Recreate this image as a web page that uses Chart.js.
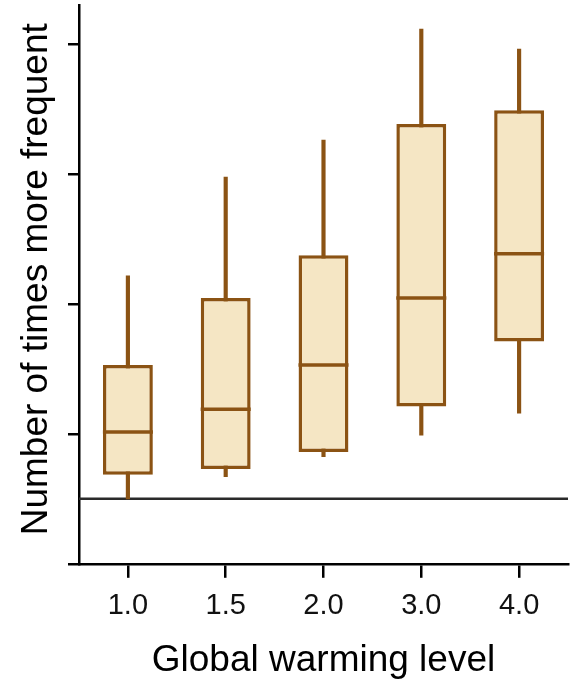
<!DOCTYPE html>
<html>
<head>
<meta charset="utf-8">
<script src="https://cdn.jsdelivr.net/npm/chart.js@4.4.1/dist/chart.umd.min.js"></script>
<style>
  html, body { margin: 0; padding: 0; background: #fff; }
  #wrap { width: 577px; height: 685px; }
</style>
</head>
<body>
<div id="wrap"><canvas id="chart"></canvas></div>
<script>
// warming levels and box statistics
var levels = ['1.0', '1.5', '2.0', '3.0', '4.0'];
var whiskerLow = [1.0, 1.34, 1.65, 1.98, 2.32];
var q1 = [1.37, 1.46, 1.72, 2.42, 3.42];
var median = [2.03, 2.38, 3.06, 4.09, 4.77];
var q3 = [3.06, 4.09, 4.75, 6.77, 6.98];
var whiskerHigh = [4.43, 5.95, 6.52, 8.23, 7.92];
var refLevel = 1;

var brown = '#8b5314';
var fill = '#f5e6c4';
var font = "'Liberation Sans', Arial, sans-serif";

var boxes = [], whiskers = [];
for (var i = 0; i < levels.length; i++) {
  boxes.push([q1[i], q3[i]]);
  whiskers.push([whiskerLow[i], whiskerHigh[i]]);
}

// horizontal reference line across the plot
var refLine = {
  id: 'refLine',
  beforeDatasetsDraw: function(chart) {
    var ctx = chart.ctx, area = chart.chartArea;
    var y = chart.scales.y.getPixelForValue(refLevel);
    ctx.save();
    ctx.strokeStyle = '#2a2a2a';
    ctx.lineWidth = 2.5;
    ctx.beginPath();
    ctx.moveTo(area.left, y);
    ctx.lineTo(area.right, y);
    ctx.stroke();
    ctx.restore();
  }
};

new Chart(document.getElementById('chart'), {
  type: 'bar',
  data: {
    labels: levels,
    datasets: [
      {
        type: 'line',
        data: median,
        showLine: false,
        pointStyle: 'line',
        pointRadius: 25,
        pointHoverRadius: 25,
        pointBorderWidth: 3.5,
        pointBorderColor: brown,
        borderColor: brown
      },
      {
        data: boxes,
        backgroundColor: fill,
        borderColor: brown,
        borderWidth: 3.5,
        borderSkipped: false,
        grouped: false,
        categoryPercentage: 1,
        barPercentage: 0.51
      },
      {
        data: whiskers,
        backgroundColor: brown,
        borderWidth: 0,
        grouped: false,
        categoryPercentage: 1,
        barThickness: 3.5
      }
    ]
  },
  options: {
    responsive: true,
    maintainAspectRatio: false,
    animation: false,
    events: [],
    layout: { autoPadding: false, padding: { top: 5, right: 9, left: 19.6, bottom: 2.5 } },
    plugins: { legend: { display: false }, tooltip: { enabled: false } },
    scales: {
      x: {
        offset: true,
        grid: { offset: false, drawOnChartArea: false, color: '#000', lineWidth: 2.5, tickLength: 14 },
        border: { color: '#000', width: 2.5 },
        ticks: { color: '#111', font: { family: font, size: 29 }, padding: 11 },
        title: { display: true, text: 'Global warming level', color: '#000',
                 font: { family: font, size: 37 }, padding: { top: 3.5, bottom: 0 } }
      },
      y: {
        min: 0,
        max: 8.6,
        grid: { drawOnChartArea: false, color: '#000', lineWidth: 2.5, tickLength: 11 },
        border: { color: '#000', width: 2.5 },
        ticks: { display: false, stepSize: 2, includeBounds: false },
        title: { display: true, text: ' Number of times more frequent', color: '#000',
                 font: { family: font, size: 37 }, padding: { top: -5, bottom: 9 } }
      }
    }
  },
  plugins: [refLine]
});
</script>
</body>
</html>
